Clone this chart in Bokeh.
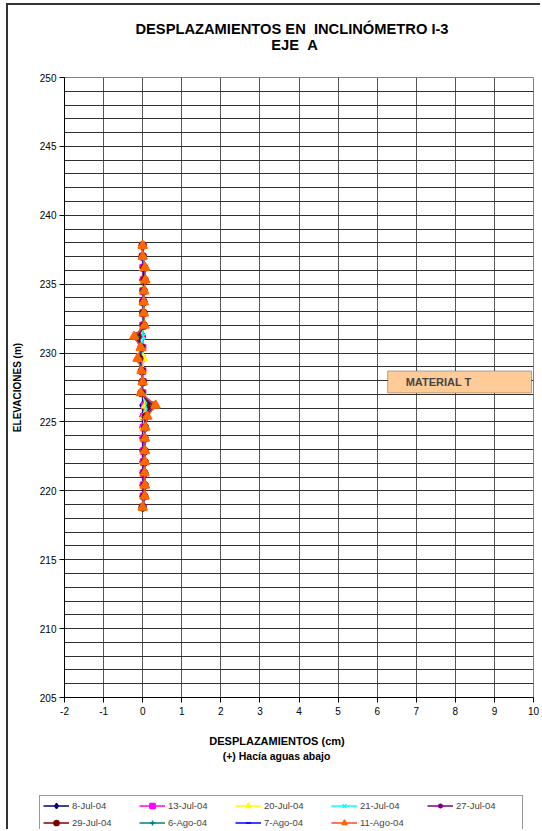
from bokeh.plotting import figure
from bokeh.layouts import column
from bokeh.models import (Range1d, FixedTicker, Label, BoxAnnotation, Legend,
                          LegendItem, ColumnDataSource)
from bokeh.embed import file_html
from bokeh.resources import INLINE

# ---------------- data ----------------
elevations = [237.8, 237.0, 236.2, 235.3, 234.5, 233.7, 232.9, 232.0, 231.2, 230.4,
              229.6, 228.7, 227.9, 227.1, 226.2, 225.4, 224.6, 223.8, 222.9, 222.1,
              221.3, 220.4, 219.6, 218.8]

d_8jul = [0.00, 0.00, 0.00, 0.00, 0.00, 0.00, 0.00, 0.00, 0.00, 0.00, 0.00, 0.00,
          0.00, 0.00, 0.00, 0.00, 0.00, 0.00, 0.00, 0.00, 0.00, 0.00, 0.00, 0.00]
d_13jul = [0.00, 0.00, 0.01, 0.02, 0.01, 0.01, 0.01, 0.01, -0.03, 0.00, -0.02, 0.00,
           0.01, 0.00, 0.05, 0.03, 0.02, 0.02, 0.02, 0.02, 0.02, 0.02, 0.02, 0.00]
d_20jul = [0.00, 0.00, 0.02, 0.03, 0.01, 0.01, 0.01, 0.02, -0.05, -0.01, 0.02, 0.00,
           0.01, -0.01, 0.08, 0.04, 0.03, 0.03, 0.03, 0.03, 0.03, 0.03, 0.03, 0.00]
d_21jul = [0.00, 0.00, 0.02, 0.03, 0.02, 0.01, 0.01, 0.02, 0.00, 0.00, -0.05, -0.01,
           0.01, -0.01, 0.12, 0.05, 0.04, 0.03, 0.03, 0.04, 0.03, 0.04, 0.03, 0.00]
d_27jul = [0.00, 0.00, 0.03, 0.04, 0.02, 0.02, 0.02, 0.02, -0.10, -0.02, -0.07, -0.01,
           0.00, -0.02, 0.18, 0.07, 0.05, 0.04, 0.04, 0.04, 0.04, 0.04, 0.04, 0.00]
d_29jul = [0.00, 0.00, 0.04, 0.05, 0.03, 0.02, 0.02, 0.03, -0.14, -0.03, -0.09, -0.02,
           0.00, -0.03, 0.22, 0.08, 0.06, 0.05, 0.05, 0.05, 0.04, 0.05, 0.04, 0.00]
d_6ago = [0.00, 0.01, 0.05, 0.06, 0.03, 0.03, 0.02, 0.03, -0.18, -0.03, -0.11, -0.02,
          0.00, -0.03, 0.28, 0.10, 0.06, 0.05, 0.05, 0.05, 0.05, 0.05, 0.05, 0.00]
d_7ago = [0.00, 0.00, 0.03, 0.04, 0.02, 0.02, 0.02, 0.03, -0.20, -0.04, -0.12, -0.02,
          0.00, -0.04, 0.31, 0.11, 0.07, 0.06, 0.06, 0.06, 0.05, 0.06, 0.05, 0.00]
d_11ago = [0.00, 0.00, 0.06, 0.07, 0.04, 0.03, 0.03, 0.05, -0.22, -0.05, -0.13, -0.03,
           0.00, -0.05, 0.33, 0.12, 0.07, 0.06, 0.06, 0.06, 0.05, 0.06, 0.05, 0.00]

series_labels = ["8-Jul-04", "13-Jul-04", "20-Jul-04", "21-Jul-04", "27-Jul-04",
                 "29-Jul-04", "6-Ago-04", "7-Ago-04", "11-Ago-04"]
series_values = [d_8jul, d_13jul, d_20jul, d_21jul, d_27jul,
                 d_29jul, d_6ago, d_7ago, d_11ago]

x_ticks = [-2, -1, 0, 1, 2, 3, 4, 5, 6, 7, 8, 9, 10]
x_tick_labels = ["-2", "-1", "0", "1", "2", "3", "4", "5", "6", "7", "8", "9", "10"]
y_ticks = [205, 210, 215, 220, 225, 230, 235, 240, 245, 250]
y_grid = [205, 206, 207, 208, 209, 210, 211, 212, 213, 214, 215, 216, 217, 218, 219,
          220, 221, 222, 223, 224, 225, 226, 227, 228, 229, 230, 231, 232, 233, 234,
          235, 236, 237, 238, 239, 240, 241, 242, 243, 244, 245, 246, 247, 248, 249, 250]

# ---------------- styles ----------------
line_colors = ["#000080", "#FF00FF", "#FFFF00", "#00FFFF", "#800080",
               "#800000", "#008080", "#0000FF", "#FF4A1A"]
marker_colors = ["#000080", "#FF00FF", "#FFFF00", "#00FFFF", "#800080",
                 "#800000", "#008080", "#0000FF", "#FF6600"]
markers = ["diamond", "square", "triangle", "x", "asterisk",
           "circle", "cross", "dash", "triangle"]
sizes = [8, 6, 8, 7, 7, 7, 8, 6, 9]

FONT = "Liberation Sans"
NB = "\u00a0"
W = 532


def blank(height):
    f = figure(width=W, height=height, output_backend="svg", toolbar_location=None,
               x_range=Range1d(0, 1), y_range=Range1d(0, 1),
               x_axis_location=None, y_axis_location=None,
               min_border_left=0, min_border_right=0, min_border_top=0,
               min_border_bottom=0)
    f.grid.visible = False
    f.outline_line_color = None
    f.background_fill_alpha = 0
    f.border_fill_alpha = 0
    f.frame_align = False
    return f


def slabel(f, x, y, text, size):
    f.add_layout(Label(x=x, y=y, x_units="screen", y_units="screen", text=text,
                       text_font=FONT, text_font_size=size, text_font_style="bold",
                       text_color="#000000", text_align="center",
                       text_baseline="middle"))


# ---------------- header ----------------
head = blank(60)
slabel(head, 283.5, 37, "DESPLAZAMIENTOS EN " + NB + "INCLINÓMETRO I-3", "14.7px")
slabel(head, 286, 21, "EJE " + NB + "A", "14.7px")

# ---------------- main plot ----------------
p = figure(width=W, height=658, output_backend="svg", toolbar_location=None,
           x_range=Range1d(-2, 10), y_range=Range1d(205, 250),
           min_border_left=56, min_border_right=7, min_border_top=12,
           min_border_bottom=26)
p.frame_align = False
p.background_fill_color = "white"
p.border_fill_alpha = 0
p.outline_line_color = "#808080"
p.outline_line_width = 1

p.xaxis.ticker = FixedTicker(ticks=x_ticks)
p.xaxis.major_label_overrides = {t: s for t, s in zip(x_ticks, x_tick_labels)}
p.yaxis.ticker = FixedTicker(ticks=y_ticks)
for ax in (p.xaxis[0], p.yaxis[0]):
    ax.axis_line_color = "#000000"
    ax.major_tick_line_color = "#000000"
    ax.major_tick_out = 5
    ax.major_tick_in = 0
    ax.minor_tick_out = 0
    ax.minor_tick_in = 0
    ax.major_label_text_font = FONT
    ax.major_label_text_font_size = "10px"
    ax.major_label_text_color = "#000000"
p.xaxis.major_label_standoff = 4
p.yaxis.major_label_standoff = 3
p.yaxis.axis_label = "ELEVACIONES (m)"
p.yaxis.axis_label_text_font = FONT
p.yaxis.axis_label_text_font_size = "10px"
p.yaxis.axis_label_text_font_style = "bold"
p.yaxis.axis_label_text_color = "#000000"
p.yaxis.axis_label_standoff = 14

p.xgrid.ticker = FixedTicker(ticks=x_ticks)
p.ygrid.ticker = FixedTicker(ticks=y_grid)
p.xgrid.grid_line_color = "#555555"
p.ygrid.grid_line_color = "#303030"
p.xgrid.grid_line_width = 1
p.ygrid.grid_line_width = 1

p.add_layout(BoxAnnotation(left=6.27, right=9.95, bottom=227.1, top=228.7,
                           fill_color="#FFCC99", fill_alpha=1.0,
                           line_color="#000000", line_width=1))
p.add_layout(Label(x=7.57, y=227.9, text="MATERIAL T", text_font=FONT,
                   text_font_size="11px", text_font_style="bold",
                   text_align="center", text_baseline="middle"))

# ---------------- footer (axis title + legend) ----------------
foot = blank(106)
slabel(foot, 268.5, 89, "DESPLAZAMIENTOS (cm)", "11px")
slabel(foot, 268, 74, "(+) Hacía aguas abajo", "10.5px")

items = []
for lab, vals, lc, mc, mk, sz in zip(series_labels, series_values, line_colors,
                                     marker_colors, markers, sizes):
    src = ColumnDataSource(dict(x=vals, y=elevations))
    p.line("x", "y", source=src, line_color=lc, line_width=1.5)
    p.scatter("x", "y", source=src, marker=mk, size=sz, fill_color=mc,
              line_color=mc, line_width=1.5)
    # legend keys (same data; falls outside the footer's ranges, so only keys show)
    lr = foot.line("x", "y", source=src, line_color=lc, line_width=1.5)
    sr = foot.scatter("x", "y", source=src, marker=mk, size=min(sz, 8),
                      fill_color=mc, line_color=mc, line_width=1.5)
    items.append(LegendItem(label=lab, renderers=[lr, sr]))

legend = Legend(items=items, location=(31, -4), orientation="horizontal",
                ncols=5, glyph_width=26, glyph_height=13, label_width=63,
                label_height=13, label_standoff=3, spacing=4, padding=3,
                margin=0, label_text_font=FONT, label_text_font_size="9.5px",
                background_fill_color="white", background_fill_alpha=1,
                border_line_color="#333333", border_line_width=1)
foot.add_layout(legend, "center")

layout = column(head, p, foot, spacing=0, margin=(3, 0, 0, 6),
                styles={"border-left": "2px solid #333333",
                        "border-top": "2px solid #333333",
                        "background-color": "white"})

open("out.html", "w").write(file_html(layout, INLINE))
